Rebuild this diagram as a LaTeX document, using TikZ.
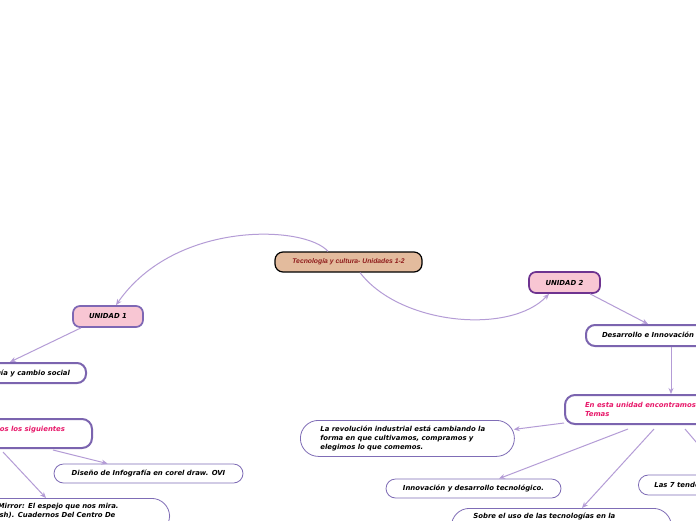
\documentclass[tikz,border=0pt]{standalone}
\usepackage{fontspec}
\setmainfont{DejaVu Sans}[ItalicFont={DejaVu Sans Oblique},BoldFont={DejaVu Sans Bold},BoldItalicFont={DejaVu Sans Bold Oblique}]
\newfontfamily\rootfont{Liberation Sans}
\usetikzlibrary{arrows.meta,calc}
\definecolor{rootfill}{HTML}{E3BB9D}
\definecolor{roottext}{HTML}{8E1B1B}
\definecolor{pinkfill}{HTML}{F8C6D3}
\definecolor{uoneborder}{HTML}{7E67B4}
\definecolor{utwoborder}{HTML}{6E3390}
\definecolor{thickc}{HTML}{7B64AF}
\definecolor{thinc}{HTML}{7F6DB6}
\definecolor{linec}{HTML}{B49CD6}
\definecolor{pinktext}{HTML}{E8186A}
\newcommand{\mf}{\fontsize{6.9}{9}\selectfont\bfseries\itshape}
\tikzset{
  base/.style={rectangle, font=\mf, inner ysep=0pt, text=black},
  rootbox/.style={base, font=\rootfont\fontsize{6.8}{8}\selectfont\bfseries\itshape, text=roottext, fill=rootfill, draw=black, line width=1.2pt, rounded corners=8pt, minimum width=147pt, minimum height=20pt},
  unitbox/.style={base, fill=pinkfill, line width=1.7pt, rounded corners=7pt, minimum width=70pt, minimum height=21pt},
  thickbox/.style={base, draw=thickc, fill=white, line width=2pt, rounded corners=9pt, inner xsep=16pt},
  thinbox/.style={base, draw=thinc, fill=white, line width=0.8pt, rounded corners=10pt, inner xsep=16pt},
  conn/.style={draw=linec, line width=1pt, -{Stealth[length=6pt,width=5pt]}},
}
\begin{document}
\begin{tikzpicture}[x=1pt,y=-1pt]
\useasboundingbox (0,0) rectangle (696,520);
\clip (0,0) rectangle (696,520);
\fill[white] (0,0) rectangle (696,520);

% nodes
\node[rootbox] (root) at (348.5,262) {Tecnología y cultura- Unidades 1-2};
\node[unitbox, draw=uoneborder] (u1) at (108,316.5) {UNIDAD 1};
\node[unitbox, draw=utwoborder, minimum width=71pt] (u2) at (564.5,282.5) {UNIDAD 2};

\node[thickbox, anchor=east, minimum height=20pt] (soc) at (87,373) {Tecnología y cambio social};
\node[thickbox, anchor=east, align=left, minimum height=29pt, inner xsep=20pt, rounded corners=10pt, text=pinktext] (enl) at (93,433.5) {En esta unidad encontramos los siguientes\kern7pt\\Temas};

\node[thickbox, anchor=west, minimum height=21pt] (des) at (585,335.5) {Desarrollo e Innovación Tecnológica};
\node[thickbox, anchor=west, align=left, minimum height=29pt, inner xsep=20pt, rounded corners=10pt, text=pinktext] (enr) at (564,409.5) {En esta unidad encontramos los siguientes\\Temas};

\node[thinbox, minimum width=189pt, minimum height=19pt, rounded corners=9.5pt] (dis) at (148.5,473.5) {Diseño de Infografía en corel draw. OVI};
\node[thinbox, anchor=north east, align=left, text width=175pt, inner xsep=20pt, inner ysep=5pt, text depth=20pt, rounded corners=18pt] (bl) at (170,498) {Black Mirror: El espejo que nos mira.\\(Spanish). Cuadernos Del Centro De};

\node[thinbox, anchor=north west, align=left, text width=174pt, inner xsep=20pt, minimum height=36pt, rounded corners=18pt] (rev) at (300,420) {La revolución industrial está cambiando la\\forma en que cultivamos, compramos y\\elegimos lo que comemos.};
\node[thinbox, minimum width=175pt, minimum height=19pt, rounded corners=9.5pt] (inn) at (473.5,488.5) {Innovación y desarrollo tecnológico.};
\node[thinbox, anchor=north west, align=left, text width=176pt, inner xsep=22pt, inner ysep=5pt, text depth=20pt, rounded corners=18pt] (sob) at (451,508) {Sobre el uso de las tecnologías en la};
\node[thinbox, anchor=west, minimum height=20pt] (las) at (638,485) {Las 7 tendencias};

% connectors
\draw[conn] ($(root.north)+(-20.5,0)$) .. controls (305,225) and (175,220) .. ($(u1.north)+(8,0)$);
\draw[conn] ($(root.south)+(11.5,0)$) .. controls (400,325) and (510,335) .. ($(u2.south)+(-15.5,0)$);
\draw[conn] ($(u1.south)+(-27,0)$) -- ($(soc.north east)+(-77,0)$);
\draw[conn] ($(u2.south)+(25.5,0)$) -- ($(des.north west)+(63,0)$);
\draw[conn] ($(des.south west)+(86,0)$) -- ($(enr.north west)+(107,0)$);
\draw[conn] ($(enr.south west)+(0,-2)$) -- ($(rev.east)+(-1,-9)$);
\draw[conn] ($(enr.south west)+(64,4)$) -- ($(inn.north)+(25.5,0)$);
\draw[conn] ($(enr.south west)+(90,4)$) -- ($(sob.north west)+(131,0)$);
\draw[conn] ($(enr.south west)+(121,4)$) -- ($(las.north west)+(86,0)$);
\draw[conn] ($(enl.south east)+(-40,1)$) -- ($(dis.north west)+(54,0)$);
\draw[conn] ($(enl.south east)+(-90,3)$) -- ($(bl.north east)+(-124,0)$);
\end{tikzpicture}
\end{document}
